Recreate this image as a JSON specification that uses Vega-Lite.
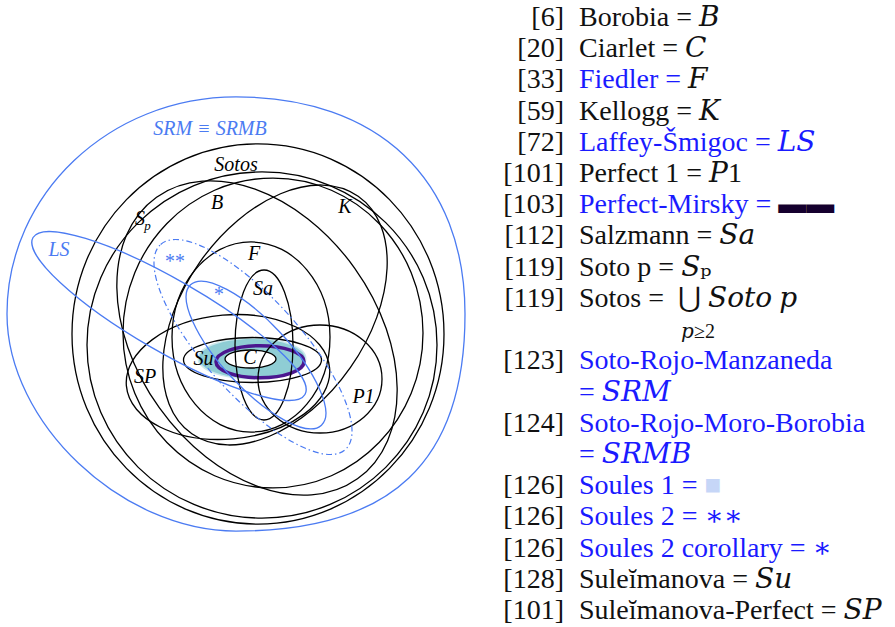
{
  "$schema": "https://vega.github.io/schema/vega-lite/v6.json",
  "padding": 0,
  "spacing": 0,
  "background": "white",
  "config": {"view": {"stroke": null}},
  "resolve": {"scale": {"x": "independent", "y": "independent", "color": "independent", "size": "independent", "shape": "independent", "stroke": "independent"}},
  "datasets": {
    "sets": [
      {"set": "SRM", "cx": 236, "cy": 314, "rx": 229, "ry": 217, "tilt": 0, "highlight": "yes"},
      {"set": "Sotos", "cx": 258, "cy": 334, "rx": 186, "ry": 190, "tilt": 0, "highlight": "no"},
      {"set": "Sp", "cx": 262, "cy": 345, "rx": 175, "ry": 173, "tilt": 0, "highlight": "no"},
      {"set": "Sp2", "cx": 273, "cy": 333, "rx": 150, "ry": 155, "tilt": 0, "highlight": "no"},
      {"set": "B", "cx": 257, "cy": 338, "rx": 173, "ry": 120, "tilt": 54.5, "highlight": "no"},
      {"set": "K", "cx": 275, "cy": 315, "rx": 145, "ry": 92, "tilt": -55, "highlight": "no"},
      {"set": "F", "cx": 251, "cy": 337, "rx": 79, "ry": 95, "tilt": 0, "highlight": "no"},
      {"set": "Sa", "cx": 264, "cy": 345, "rx": 29, "ry": 75, "tilt": 0, "highlight": "no"},
      {"set": "SP", "cx": 228, "cy": 377, "rx": 102, "ry": 62, "tilt": -5, "highlight": "no"},
      {"set": "P1", "cx": 320, "cy": 379, "rx": 62, "ry": 54, "tilt": 0, "highlight": "no"},
      {"set": "Su", "cx": 252.5, "cy": 360, "rx": 69, "ry": 22.5, "tilt": 0, "highlight": "no"},
      {"set": "LS", "cx": 169, "cy": 316, "rx": 157, "ry": 36, "tilt": 30, "highlight": "yes"},
      {"set": "S2", "cx": 253, "cy": 347, "rx": 138, "ry": 48, "tilt": 48, "highlight": "yes"},
      {"set": "S2c", "cx": 256, "cy": 355, "rx": 96, "ry": 33, "tilt": 47, "highlight": "yes"},
      {"set": "C", "cx": 250.5, "cy": 359, "rx": 25.5, "ry": 9, "tilt": 0, "highlight": "no"},
      {"set": "PM", "cx": 260, "cy": 361.7, "rx": 44, "ry": 16, "tilt": 0, "highlight": "no"},
      {"set": "S1", "cx": 252, "cy": 358.5, "rx": 53, "ry": 19.5, "tilt": 0, "highlight": "yes"}
    ],
    "labels": [
      {"text": "SRM ≡ SRMB", "lx": 210, "ly": 135, "highlight": "yes", "level": "base"},
      {"text": "Sotos", "lx": 236, "ly": 170.5, "highlight": "no", "level": "base"},
      {"text": "B", "lx": 217, "ly": 209, "highlight": "no", "level": "base"},
      {"text": "K", "lx": 345, "ly": 212.5, "highlight": "no", "level": "base"},
      {"text": "S", "lx": 140, "ly": 225, "highlight": "no", "level": "base"},
      {"text": "p", "lx": 147.5, "ly": 230, "highlight": "no", "level": "subscript"},
      {"text": "LS", "lx": 59, "ly": 255.5, "highlight": "yes", "level": "base"},
      {"text": "**", "lx": 174, "ly": 267.5, "highlight": "yes", "level": "base"},
      {"text": "*", "lx": 218, "ly": 301, "highlight": "yes", "level": "base"},
      {"text": "F", "lx": 254, "ly": 260, "highlight": "no", "level": "base"},
      {"text": "Sa", "lx": 263, "ly": 295, "highlight": "no", "level": "base"},
      {"text": "Su", "lx": 203.5, "ly": 365, "highlight": "no", "level": "base"},
      {"text": "C", "lx": 250, "ly": 364, "highlight": "no", "level": "base"},
      {"text": "SP", "lx": 145, "ly": 383, "highlight": "no", "level": "base"},
      {"text": "P1", "lx": 363.5, "ly": 402.5, "highlight": "no", "level": "base"}
    ],
    "legend": [
      {"line": 0, "ref": "[6]", "full": "Borobia = 𝐵", "group": "plain"},
      {"line": 1, "ref": "[20]", "full": "Ciarlet = 𝐶", "group": "plain"},
      {"line": 2, "ref": "[33]", "full": "Fiedler = 𝐹", "group": "fiedler"},
      {"line": 3, "ref": "[59]", "full": "Kellogg = 𝐾", "group": "plain"},
      {"line": 4, "ref": "[72]", "full": "Laffey-Šmigoc = 𝐿𝑆", "group": "highlight"},
      {"line": 5, "ref": "[101]", "full": "Perfect 1 = 𝑃1", "group": "plain"},
      {"line": 6, "ref": "[103]", "full": "Perfect-Mirsky = ▬▬", "group": "mirsky"},
      {"line": 7, "ref": "[112]", "full": "Salzmann = 𝑆𝑎", "group": "plain"},
      {"line": 8, "ref": "[119]", "full": "Soto p = 𝑆ₚ", "group": "plain"},
      {"line": 9, "ref": "[119]", "full": "Sotos =\u2002⋃ 𝑆𝑜𝑡𝑜 𝑝", "group": "plain"},
      {"line": 11, "ref": "[123]", "full": "Soto-Rojo-Manzaneda", "group": "highlight"},
      {"line": 12, "ref": "", "full": "= 𝑆𝑅𝑀", "group": "highlight"},
      {"line": 13, "ref": "[124]", "full": "Soto-Rojo-Moro-Borobia", "group": "highlight"},
      {"line": 14, "ref": "", "full": "= 𝑆𝑅𝑀𝐵", "group": "highlight"},
      {"line": 15, "ref": "[126]", "full": "Soules 1 = ■", "group": "soules1"},
      {"line": 16, "ref": "[126]", "full": "Soules 2 = ∗∗", "group": "highlight"},
      {"line": 17, "ref": "[126]", "full": "Soules 2 corollary = ∗", "group": "highlight"},
      {"line": 18, "ref": "[128]", "full": "Suleĭmanova = 𝑆𝑢", "group": "plain"},
      {"line": 19, "ref": "[101]", "full": "Suleĭmanova-Perfect = 𝑆𝑃", "group": "plain"}
    ]
  },
  "hconcat": [
    {
      "width": 472,
      "height": 627,
      "encoding": {
        "x": {"field": "cx", "type": "quantitative", "scale": {"domain": [0, 472], "nice": false, "zero": false}, "axis": null},
        "y": {"field": "cy", "type": "quantitative", "scale": {"domain": [0, 627], "nice": false, "zero": false, "reverse": true}, "axis": null}
      },
      "layer": [
        {
          "data": {"name": "sets"},
          "transform": [{"filter": {"field": "set", "equal": "S1"}}],
          "mark": {"type": "point", "filled": true, "fill": "#8fcdd4", "stroke": "#8fcdd4", "strokeWidth": 3, "strokeOpacity": 0.45, "opacity": 1},
          "encoding": {
            "size": {"field": "rx", "type": "quantitative", "scale": {"type": "pow", "exponent": 2, "domain": [0, 250], "range": [0, 250000], "nice": false}, "legend": null},
            "angle": {"field": "tilt", "type": "quantitative", "scale": null},
            "shape": {"field": "set", "type": "nominal", "legend": null, "scale": {
              "domain": ["SRM","Sotos","Sp","Sp2","B","K","F","Sa","SP","P1","Su","LS","S2","S2c","C","PM","S1"],
              "range": [
                "M-1,0C-1,-0.523,-0.552,-0.948,0,-0.948C0.62,-0.948,1,-0.588,1,0C1,0.645,0.68,0.948,0,0.948C-0.5,0.948,-1,0.474,-1,0Z",
                "M-1,0A1,1.022,0,1,1,1,0A1,1.022,0,1,1,-1,0Z",
                "M-1,0A1,0.989,0,1,1,1,0A1,0.989,0,1,1,-1,0Z",
                "M-1,0A1,1.033,0,1,1,1,0A1,1.033,0,1,1,-1,0Z",
                "M-1,0A1,0.694,0,1,1,1,0A1,0.694,0,1,1,-1,0Z",
                "M-1,0A1,0.634,0,1,1,1,0A1,0.634,0,1,1,-1,0Z",
                "M-1,0A1,1.203,0,1,1,1,0A1,1.203,0,1,1,-1,0Z",
                "M-1,0A1,2.586,0,1,1,1,0A1,2.586,0,1,1,-1,0Z",
                "M-1,0A1,0.608,0,1,1,1,0A1,0.608,0,1,1,-1,0Z",
                "M-1,0A1,0.871,0,1,1,1,0A1,0.871,0,1,1,-1,0Z",
                "M-1,0A1,0.326,0,1,1,1,0A1,0.326,0,1,1,-1,0Z",
                "M-1,0A1,0.229,0,1,1,1,0A1,0.229,0,1,1,-1,0Z",
                "M-1,0A1,0.348,0,1,1,1,0A1,0.348,0,1,1,-1,0Z",
                "M-1,0A1,0.344,0,1,1,1,0A1,0.344,0,1,1,-1,0Z",
                "M-1,0A1,0.353,0,1,1,1,0A1,0.353,0,1,1,-1,0Z",
                "M-1,0A1,0.364,0,1,1,1,0A1,0.364,0,1,1,-1,0Z",
                "M-1,0A1,0.368,0,1,1,1,0A1,0.368,0,1,1,-1,0Z"
              ]}}
          }
        },
        {
          "data": {"name": "sets"},
          "transform": [{"filter": {"field": "set", "equal": "C"}}],
          "mark": {"type": "point", "filled": true, "fill": "white", "strokeWidth": 0, "opacity": 1},
          "encoding": {
            "size": {"field": "rx", "type": "quantitative", "legend": null},
            "angle": {"field": "tilt", "type": "quantitative", "scale": null},
            "shape": {"field": "set", "type": "nominal", "legend": null}
          }
        },
        {
          "data": {"name": "sets"},
          "transform": [{"filter": {"field": "set", "equal": "PM"}}],
          "mark": {"type": "point", "filled": false, "stroke": "#4b168f", "strokeWidth": 3.5, "opacity": 1},
          "encoding": {
            "size": {"field": "rx", "type": "quantitative", "legend": null},
            "angle": {"field": "tilt", "type": "quantitative", "scale": null},
            "shape": {"field": "set", "type": "nominal", "legend": null}
          }
        },
        {
          "data": {"name": "sets"},
          "transform": [{"filter": {"field": "set", "oneOf": ["SRM","Sotos","Sp","Sp2","B","K","F","Sa","SP","P1","Su","LS","S2c","C"]}}],
          "mark": {"type": "point", "filled": false, "strokeWidth": 1.3, "opacity": 1},
          "encoding": {
            "size": {"field": "rx", "type": "quantitative", "legend": null},
            "angle": {"field": "tilt", "type": "quantitative", "scale": null},
            "shape": {"field": "set", "type": "nominal", "legend": null},
            "stroke": {"field": "highlight", "type": "nominal", "legend": null, "scale": {"domain": ["no", "yes"], "range": ["#000000", "#4b7bf2"]}}
          }
        },
        {
          "data": {"name": "sets"},
          "transform": [{"filter": {"field": "set", "equal": "S2"}}],
          "mark": {"type": "point", "filled": false, "strokeWidth": 1.2, "strokeDash": [6, 3, 1.5, 3], "opacity": 1},
          "encoding": {
            "size": {"field": "rx", "type": "quantitative", "legend": null},
            "angle": {"field": "tilt", "type": "quantitative", "scale": null},
            "shape": {"field": "set", "type": "nominal", "legend": null},
            "stroke": {"field": "highlight", "type": "nominal", "legend": null}
          }
        },
        {
          "data": {"name": "labels"},
          "transform": [{"filter": {"field": "level", "equal": "base"}}],
          "mark": {"type": "text", "font": "Liberation Serif, DejaVu Serif", "fontStyle": "italic", "fontSize": 20, "align": "center", "baseline": "alphabetic"},
          "encoding": {
            "x": {"field": "lx", "type": "quantitative", "axis": null},
            "y": {"field": "ly", "type": "quantitative", "axis": null},
            "text": {"field": "text"},
            "color": {"field": "highlight", "type": "nominal", "legend": null, "scale": {"domain": ["no", "yes"], "range": ["#000000", "#4b7bf2"]}}
          }
        },
        {
          "data": {"name": "labels"},
          "transform": [{"filter": {"field": "level", "equal": "subscript"}}],
          "mark": {"type": "text", "font": "Liberation Serif, DejaVu Serif", "fontStyle": "italic", "fontSize": 13, "align": "center", "baseline": "alphabetic"},
          "encoding": {
            "x": {"field": "lx", "type": "quantitative", "axis": null},
            "y": {"field": "ly", "type": "quantitative", "axis": null},
            "text": {"field": "text"},
            "color": {"field": "highlight", "type": "nominal", "legend": null}
          }
        }
      ]
    },
    {
      "width": 423,
      "height": 627,
      "data": {"name": "legend"},
      "encoding": {
        "y": {"field": "line", "type": "quantitative", "scale": {"domain": [0, 19], "range": [26, 619], "nice": false, "zero": false}, "axis": null}
      },
      "layer": [
        {
          "mark": {"type": "text", "font": "Liberation Serif, DejaVu Serif", "fontSize": 28, "align": "right", "baseline": "alphabetic", "color": "#111111"},
          "encoding": {
            "x": {"datum": "ref", "type": "nominal", "scale": {"type": "point", "domain": ["ref", "name"], "range": [92, 107], "padding": 0}, "axis": null},
            "text": {"field": "ref"}
          }
        },
        {
          "transform": [{"filter": {"field": "group", "equal": "plain"}}],
          "mark": {"type": "text", "font": "Liberation Serif, DejaVu Serif", "fontSize": 28, "align": "left", "baseline": "alphabetic", "color": "#111111"},
          "encoding": {
            "x": {"datum": "name", "type": "nominal", "axis": null},
            "text": {"field": "full"}
          }
        },
        {
          "transform": [{"filter": {"field": "group", "equal": "highlight"}}],
          "mark": {"type": "text", "font": "Liberation Serif, DejaVu Serif", "fontSize": 28, "align": "left", "baseline": "alphabetic", "color": "#1a1aff"},
          "encoding": {
            "x": {"datum": "name", "type": "nominal", "axis": null},
            "text": {"field": "full"}
          }
        },
        {
          "transform": [{"filter": {"field": "group", "equal": "fiedler"}}],
          "mark": {"type": "text", "font": "Liberation Serif, DejaVu Serif", "fontSize": 28, "align": "left", "baseline": "alphabetic",
            "color": {"gradient": "linear", "x1": 0, "y1": 0, "x2": 1, "y2": 0, "stops": [{"offset": 0, "color": "#1a1aff"}, {"offset": 0.82, "color": "#1a1aff"}, {"offset": 0.82, "color": "#111111"}, {"offset": 1, "color": "#111111"}]}},
          "encoding": {
            "x": {"datum": "name", "type": "nominal", "axis": null},
            "text": {"field": "full"}
          }
        },
        {
          "transform": [{"filter": {"field": "group", "equal": "mirsky"}}],
          "mark": {"type": "text", "font": "Liberation Serif, DejaVu Serif", "fontSize": 28, "align": "left", "baseline": "alphabetic",
            "color": {"gradient": "linear", "x1": 0, "y1": 0, "x2": 1, "y2": 0, "stops": [{"offset": 0, "color": "#1a1aff"}, {"offset": 0.77, "color": "#1a1aff"}, {"offset": 0.77, "color": "#15002e"}, {"offset": 1, "color": "#15002e"}]}},
          "encoding": {
            "x": {"datum": "name", "type": "nominal", "axis": null},
            "text": {"field": "full"}
          }
        },
        {
          "transform": [{"filter": {"field": "group", "equal": "soules1"}}],
          "mark": {"type": "text", "font": "Liberation Serif, DejaVu Serif", "fontSize": 28, "align": "left", "baseline": "alphabetic",
            "color": {"gradient": "linear", "x1": 0, "y1": 0, "x2": 1, "y2": 0, "stops": [{"offset": 0, "color": "#1a1aff"}, {"offset": 0.83, "color": "#1a1aff"}, {"offset": 0.83, "color": "#c6d6f7"}, {"offset": 1, "color": "#c6d6f7"}]}},
          "encoding": {
            "x": {"datum": "name", "type": "nominal", "axis": null},
            "text": {"field": "full"}
          }
        },
        {
          "data": {"values": [{"line": 10, "text": "𝑝≥2"}]},
          "mark": {"type": "text", "font": "Liberation Serif, DejaVu Serif", "fontSize": 20, "align": "center", "baseline": "alphabetic", "dx": 119, "color": "#111111"},
          "encoding": {
            "x": {"datum": "name", "type": "nominal", "axis": null},
            "text": {"field": "text"}
          }
        }
      ]
    }
  ]
}
